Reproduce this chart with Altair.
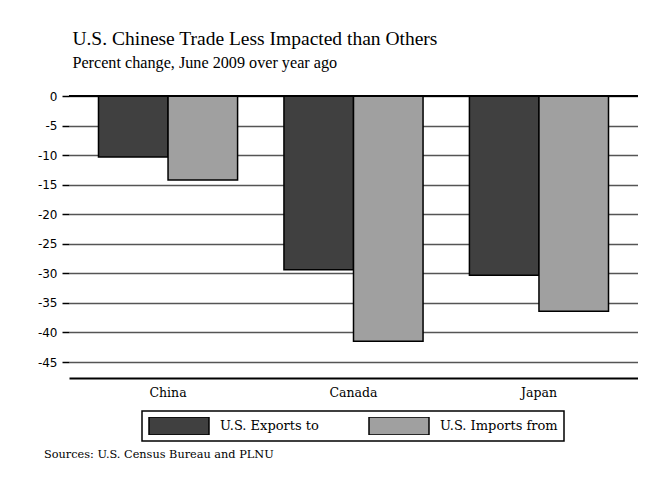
import altair as alt
import pandas as pd

countries = ["China", "Canada", "Japan"]
series = ["U.S. Exports to", "U.S. Imports from"]
exports_to = [-10.3, -29.4, -30.3]
imports_from = [-14.2, -41.5, -36.4]
y_ticks = [0, -5, -10, -15, -20, -25, -30, -35, -40, -45]
title_text = "U.S. Chinese Trade Less Impacted than Others"
subtitle_text = "Percent change, June 2009 over year ago"
source_text = "Sources: U.S. Census Bureau and PLNU"

rows = []
for c, e, i in zip(countries, exports_to, imports_from):
    rows.append({"country": c, "series": series[0], "value": e})
    rows.append({"country": c, "series": series[1], "value": i})
df = pd.DataFrame(rows)

W, H = 569, 282
serif = "DejaVu Serif"
tserif = "Liberation Serif"

base = alt.Chart(df)

bars = base.mark_bar(stroke="black", strokeWidth=1.5).encode(
    x=alt.X("country:N", sort=countries,
            scale=alt.Scale(paddingInner=0.25, paddingOuter=0.159),
            axis=alt.Axis(title=None, labelAngle=0, ticks=False, labelPadding=8,
                          labelFont=serif, labelFontSize=12.5, labelColor="black",
                          domainColor="black", domainWidth=2)),
    xOffset=alt.XOffset("series:N", sort=series),
    y=alt.Y("value:Q", scale=alt.Scale(domain=[-47.7, 0], nice=False, zero=False),
            axis=alt.Axis(title=None, values=y_ticks, tickCount=20, grid=True,
                          gridColor="#555555",
                          gridWidth=1.5, gridOpacity=1, tickSize=7, tickColor="black",
                          tickWidth=1.5, domain=False, labelPadding=5, labelOverlap=False,
                          labelExpr="toString(datum.value)",
                          labelFont="DejaVu Sans", labelFontSize=12, labelColor="black")),
    color=alt.Color("series:N", sort=series,
                    scale=alt.Scale(domain=series, range=["#404040", "#a0a0a0"]),
                    legend=alt.Legend(title=None, orient="none", direction="horizontal",
                                      legendX=73, legendY=315,
                                      symbolType="M-1,-0.3L1,-0.3L1,0.3L-1,0.3Z",
                                      symbolSize=3600, symbolStrokeColor="black",
                                      symbolStrokeWidth=1.5, symbolOpacity=1,
                                      clipHeight=18,
                                      labelFont=serif, labelFontSize=13, labelColor="black",
                                      labelOffset=10, columnPadding=49, padding=6,
                                      strokeColor="black", labelLimit=300)),
)

zero_df = pd.DataFrame({"v": [0]})
zero_line = alt.Chart(zero_df).mark_rule(color="black", strokeWidth=2).encode(
    y=alt.Y("v:Q"))

src_df = pd.DataFrame({"t": [source_text]})
source = alt.Chart(src_df).mark_text(align="left", baseline="middle", font=serif,
                                     fontSize=11.3, color="black").encode(
    x=alt.value(-25), y=alt.value(359), text="t:N")

chart = alt.layer(bars, zero_line, source).properties(
    width=W, height=H,
    title=alt.TitleParams(title_text, subtitle=subtitle_text, anchor="start",
                          font=tserif, fontSize=19.5, fontWeight="normal", color="black",
                          subtitleFont=tserif, subtitleFontSize=16.2, subtitleColor="black",
                          subtitlePadding=5, offset=18, dx=35),
    autosize=alt.AutoSizeParams(type="none"),
    padding={"left": 61, "top": 88, "right": 0, "bottom": 82},
).configure_view(stroke=None).configure_legend(strokeWidth=1.5)

chart.save("out.html", embed_options={"renderer": "svg", "actions": False})
